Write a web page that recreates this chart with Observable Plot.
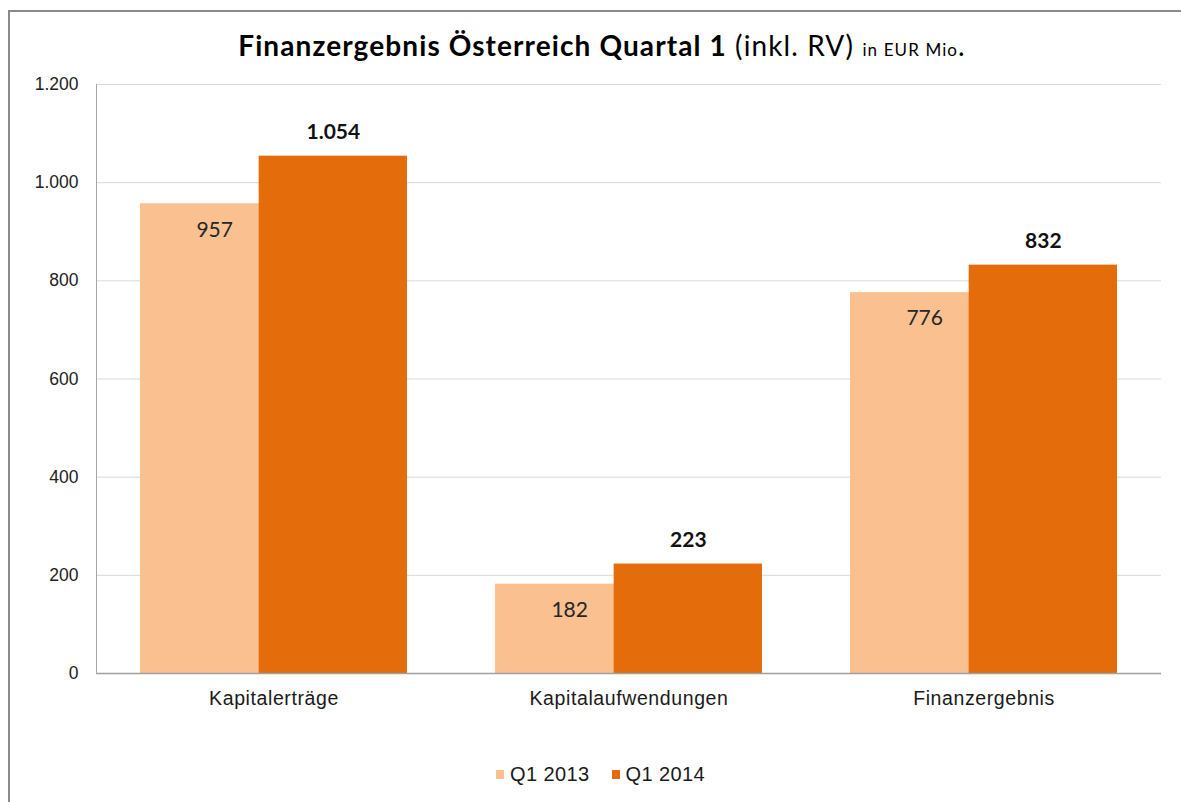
<!DOCTYPE html>
<html>
<head>
<meta charset="utf-8">
<script src="https://cdn.jsdelivr.net/npm/d3@7"></script>
<script src="https://cdn.jsdelivr.net/npm/@observablehq/plot@0.6"></script>
<style>
  html, body { margin: 0; padding: 0; background: #fff; overflow: hidden; }
  #frame { position: absolute; left: 8px; top: 10px; width: 1300px; height: 900px; border: 2px solid #8a8a8a; box-sizing: border-box; }
  #title { position: absolute; left: 0; top: 28px; width: 1204px; text-align: center; font-family: Lato, "Open Sans", sans-serif; color: #000; white-space: nowrap; letter-spacing: 1.1px; }
  #title .b { font-weight: 700; font-size: 28px; }
  #title .r { font-weight: 400; font-size: 28px; }
  #title .s { font-weight: 400; font-size: 17px; }
  #chart { position: absolute; left: 10px; top: 70px; }
  #chart svg g[aria-label="x-axis tick label"] text { letter-spacing: 0.6px; }
  #legend { position: absolute; left: 496px; top: 763px; display: flex; align-items: center; font-family: "Liberation Sans", Arial, sans-serif; font-size: 20px; letter-spacing: 0.4px; color: #1a1a1a; }
  #legend .sw { width: 8px; height: 9px; display: inline-block; margin-right: 6px; }
  #legend .item { display: flex; align-items: center; margin-right: 22px; }
</style>
</head>
<body>
<div id="frame"></div>
<div id="title"><span class="b">Finanzergebnis Österreich Quartal 1</span><span class="r"> (inkl. RV) </span><span class="s">in EUR Mio</span><span class="r">.</span></div>
<div id="chart"></div>
<div id="legend"></div>
<script>
const categories = ["Kapitalerträge", "Kapitalaufwendungen", "Finanzergebnis"];
const series = ["Q1 2013", "Q1 2014"];
const values2013 = [957, 182, 776];
const values2014 = [1054, 223, 832];
const yTicks = [0, 200, 400, 600, 800, 1000, 1200];
const colors = ["#FAC090", "#E46C0A"];

const de = d3.formatLocale({decimal: ",", thousands: ".", grouping: [3], currency: ["", " €"]});
const fmt = de.format(",");

const data2013 = categories.map((c, i) => ({category: c, series: series[0], value: values2013[i]}));
const data2014 = categories.map((c, i) => ({category: c, series: series[1], value: values2014[i]}));

const width = 1171, height = 643;
const marginLeft = 86, marginRight = 20, marginTop = 14, marginBottom = 40;
const bw = (width - marginLeft - marginRight) / categories.length;
const group = bw * 0.752;
const overlap = 0.2;
const barW = group / (2 - overlap);
const off = (bw - group) / 2;
// 2013 bar
const l1 = off, r1 = bw - (off + barW);
// 2014 bar
const l2 = off + barW * (1 - overlap), r2 = off;
const c1 = off + barW / 2 - bw / 2;
const c2 = bw / 2 - off - barW / 2;

const chart = Plot.plot({
  width, height, marginLeft, marginRight, marginTop, marginBottom,
  style: {fontFamily: "'Liberation Sans', Arial, sans-serif", background: "#fff"},
  x: {domain: categories, padding: 0, label: null},
  y: {domain: [0, 1200], label: null},
  marks: [
    Plot.ruleY(yTicks.slice(1), {stroke: "#d9d9d9", strokeWidth: 1}),
    Plot.barY(data2013, {x: "category", y: "value", fill: colors[0], insetLeft: l1, insetRight: r1}),
    Plot.barY(data2014, {x: "category", y: "value", fill: colors[1], insetLeft: l2, insetRight: r2}),
    Plot.ruleY([0], {stroke: "#a0a0a0", strokeWidth: 1.5}),
    Plot.frame({anchor: "left", stroke: "#a6a6a6", strokeWidth: 1}),
    Plot.text(data2013, {x: "category", y: "value", text: d => fmt(d.value), dx: c1, dy: 26,
      fontFamily: "Lato, 'Open Sans', sans-serif", fontSize: 21, fill: "#262626"}),
    Plot.text(data2014, {x: "category", y: "value", text: d => fmt(d.value), dx: c2, dy: -24,
      fontFamily: "Lato, 'Open Sans', sans-serif", fontSize: 21, fontWeight: "bold", fill: "#111"}),
    Plot.axisY({ticks: yTicks, tickFormat: fmt, tickSize: 0, tickPadding: 18, fontSize: 17.5, fill: "#222"}),
    Plot.axisX({tickSize: 0, tickPadding: 18, fontSize: 19.5, fill: "#1a1a1a"})
  ]
});
document.getElementById("chart").appendChild(chart);

const legend = document.getElementById("legend");
series.forEach((s, i) => {
  const item = document.createElement("div");
  item.className = "item";
  const sw = document.createElement("span");
  sw.className = "sw";
  sw.style.background = colors[i];
  item.appendChild(sw);
  const t = document.createElement("span");
  t.textContent = s;
  item.appendChild(t);
  legend.appendChild(item);
});
</script>
</body>
</html>
